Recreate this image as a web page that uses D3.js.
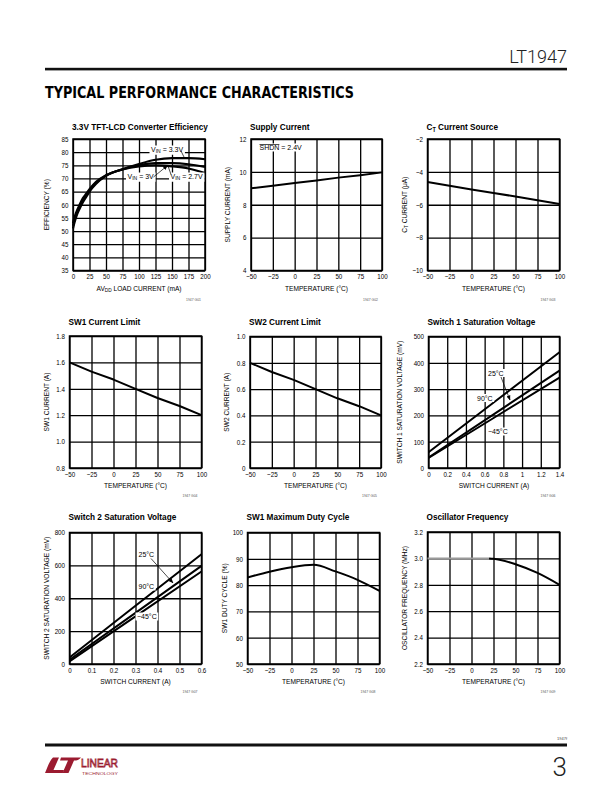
<!DOCTYPE html>
<html><head><meta charset="utf-8">
<script src="https://cdn.jsdelivr.net/npm/d3@7"></script>
<style>body{margin:0;background:#fff}svg{display:block}</style>
</head><body>
<script>
// ---------------- DATA ----------------
const effLoad = [0, 2, 5, 10, 15, 20, 25, 35, 50, 75, 100, 125, 150, 175, 200];
const eff33 = [51, 53, 55.5, 58.5, 61, 63, 65, 68, 71, 73.5, 75.5, 77.1, 77.7, 77.7, 77.3];
const eff30 = [52, 54, 56.3, 59.3, 61.8, 63.6, 65.5, 68.4, 71.1, 73.5, 75, 75.8, 75.8, 75.4, 74.4];
const eff27 = [53, 55, 57.2, 60, 62.5, 64.2, 65.9, 68.7, 71.2, 73.4, 74.6, 75, 74.6, 73.8, 72.1];

const tempC = [-50, -25, 0, 25, 50, 75, 100];
const supplyCurrent = [9.0, 9.15, 9.32, 9.48, 9.65, 9.8, 9.97];
const ctCurrent = [-4.62, -4.85, -5.07, -5.28, -5.5, -5.72, -5.95];
const sw1Limit = [1.6, 1.53, 1.47, 1.4, 1.33, 1.27, 1.2];
const sw2Limit = [0.8, 0.73, 0.67, 0.6, 0.53, 0.47, 0.4];
const dutyCycle = [82.9, 85.1, 86.8, 87.7, 85.2, 82.0, 77.8];

const sw1Amps = [0, 0.7, 1.4];
const sw1Sat90 = [60, 250, 440];
const sw1Sat25 = [40, 205, 370];
const sw1SatM45 = [38, 191, 344];

const sw2Amps = [0, 0.3, 0.6];
const sw2Sat25 = [40, 354, 668];
const sw2Sat90 = [26, 311, 597];
const sw2SatM45 = [16, 290, 563];

const oscTempFlat = [-50, 20];
const oscFreqFlat = [3.0, 3.0];
const oscTempFall = [20, 25, 50, 75, 100];
const oscFreqFall = [3.0, 2.998, 2.956, 2.89, 2.8];

// tick values / labels
const tempTicks = [-50, -25, 0, 25, 50, 75, 100];
const tempLabels = ["\u221250", "\u221225", "0", "25", "50", "75", "100"];
const loadTicks = [0, 25, 50, 75, 100, 125, 150, 175, 200];
const loadLabels = ["0", "25", "50", "75", "100", "125", "150", "175", "200"];
const effTicks = [35, 40, 45, 50, 55, 60, 65, 70, 75, 80, 85];
const effLabels = ["35", "40", "45", "50", "55", "60", "65", "70", "75", "80", "85"];
const supplyTicks = [4, 6, 8, 10, 12];
const supplyLabels = ["4", "6", "8", "10", "12"];
const ctTicks = [-10, -8, -6, -4, -2];
const ctLabels = ["\u221210", "\u22128", "\u22126", "\u22124", "\u22122"];
const sw1LimTicks = [0.8, 1.0, 1.2, 1.4, 1.6, 1.8];
const sw1LimLabels = ["0.8", "1.0", "1.2", "1.4", "1.6", "1.8"];
const sw2LimTicks = [0, 0.2, 0.4, 0.6, 0.8, 1.0];
const sw2LimLabels = ["0", "0.2", "0.4", "0.6", "0.8", "1.0"];
const sat1XTicks = [0, 0.2, 0.4, 0.6, 0.8, 1.0, 1.2, 1.4];
const sat1XLabels = ["0", "0.2", "0.4", "0.6", "0.8", "1", "1.2", "1.4"];
const sat1YTicks = [0, 100, 200, 300, 400, 500];
const sat1YLabels = ["0", "100", "200", "300", "400", "500"];
const sat2XTicks = [0, 0.1, 0.2, 0.3, 0.4, 0.5, 0.6];
const sat2XLabels = ["0", "0.1", "0.2", "0.3", "0.4", "0.5", "0.6"];
const sat2YTicks = [0, 200, 400, 600, 800];
const sat2YLabels = ["0", "200", "400", "600", "800"];
const dutyTicks = [50, 60, 70, 80, 90, 100];
const dutyLabels = ["50", "60", "70", "80", "90", "100"];
const oscTicks = [2.2, 2.4, 2.6, 2.8, 3.0, 3.2];
const oscLabels = ["2.2", "2.4", "2.6", "2.8", "3.0", "3.2"];

// ---------------- DRAW ----------------
const NARROW = "'Liberation Sans Narrow','Arial Narrow','Liberation Sans',Arial,sans-serif";
const SANS = "'Liberation Sans',Arial,sans-serif";
const LIGHT = "Roboto,'Open Sans','Liberation Sans',sans-serif";
const svg = d3.select('body').append('svg').attr('width', 612).attr('height', 792);

function squeeze(sel, k) {
  sel.each(function () {
    const t = d3.select(this);
    const x = +t.attr('x') || 0;
    t.attr('transform', `translate(${x},0) scale(${k},1) translate(${-x},0)`);
  });
}

const defs = svg.append('defs');
defs.append('marker').attr('id', 'ah').attr('viewBox', '0 0 10 10').attr('refX', 9).attr('refY', 5)
  .attr('markerWidth', 5).attr('markerHeight', 5).attr('orient', 'auto-start-reverse')
  .attr('markerUnits', 'userSpaceOnUse')
  .append('path').attr('d', 'M0,1 L10,5 L0,9 Z').attr('fill', '#000');

// header
svg.append('text').attr('x', 567).attr('y', 63).attr('text-anchor', 'end')
  .attr('font-family', LIGHT).attr('font-weight', 300).attr('font-size', 18).attr('fill', '#222').text('LT1947');
svg.append('rect').attr('x', 45).attr('y', 67.8).attr('width', 522).attr('height', 2.6).attr('fill', '#111');
svg.append('text').attr('x', 45).attr('y', 97.5).attr('font-family', "'DejaVu Sans',sans-serif")
  .attr('font-weight', 'bold').attr('font-size', 15)
  .attr('textLength', 309).attr('lengthAdjust', 'spacingAndGlyphs').attr('fill', '#000')
  .text('TYPICAL PERFORMANCE CHARACTERISTICS');

function addRichText(g, x, y, parts, opts = {}) {
  const t = g.append('text').attr('x', x).attr('y', y).attr('font-family', NARROW)
    .attr('font-size', opts.size || 7).attr('fill', '#000')
    .attr('text-anchor', opts.anchor || 'start');
  if (opts.transform) t.attr('transform', opts.transform);
  parts.forEach(p => {
    if (typeof p === 'string') t.append('tspan').text(p);
    else if (p.sub) { t.append('tspan').attr('baseline-shift', '-25%').attr('font-size', (opts.size || 7) * 0.72).text(p.sub); }
    else if (p.over) { t.append('tspan').attr('text-decoration', 'overline').text(p.over); }
  });
  return t;
}
function boxedLabel(g, x, y, parts) {
  const t = addRichText(g, x, y, parts, { size: 7 });
  const b = t.node().getBBox();
  g.insert('rect', () => t.node()).attr('x', b.x - 1.5).attr('y', b.y - 0.5)
    .attr('width', b.width + 3).attr('height', b.height + 1).attr('fill', '#fff');
  return t;
}

function drawChart(c) {
  const g = svg.append('g');
  const [x0, x1, y0, y1] = c.box;
  const w = x1 - x0, h = y1 - y0;
  const x = d3.scaleLinear().domain(c.xDomain).range([x0, x1]);
  const y = d3.scaleLinear().domain(c.yDomain).range([y1, y0]);
  const xa = g.append('g').attr('transform', `translate(0,${y1})`)
    .call(d3.axisBottom(x).tickValues(c.xTicks).tickFormat((d, i) => c.xLabels[i]).tickSize(-h).tickPadding(3.5));
  const ya = g.append('g').attr('transform', `translate(${x0},0)`)
    .call(d3.axisLeft(y).tickValues(c.yTicks).tickFormat((d, i) => c.yLabels[i]).tickSize(-w).tickPadding(4.5));
  [xa, ya].forEach(a => {
    a.select('.domain').remove();
    a.selectAll('line').attr('stroke', '#000').attr('stroke-width', 1.3);
    a.selectAll('text').attr('font-family', NARROW).attr('font-size', 7.4).attr('fill', '#000');
    squeeze(a.selectAll('text'), 0.84);
  });
  g.append('rect').attr('x', x0).attr('y', y0).attr('width', w).attr('height', h)
    .attr('fill', 'none').attr('stroke', '#000').attr('stroke-width', 1.5);
  // title
  const tt = g.append('text').attr('x', x0 - 1).attr('y', c.titleY).attr('font-family', NARROW)
    .attr('font-weight', 'bold').attr('font-size', 9.8).attr('fill', '#000');
  c.title.forEach(p => {
    if (typeof p === 'string') tt.append('tspan').text(p);
    else tt.append('tspan').attr('baseline-shift', '-25%').attr('font-size', 6.5).text(p.sub);
  });
  squeeze(tt, 0.84);
  // axis titles
  addRichText(g, (x0 + x1) / 2, y1 + 20, c.xTitle, { size: 6.6, anchor: 'middle' });
  const ymid = (y0 + y1) / 2;
  addRichText(g, 0, 0, c.yTitle, { size: 6.6, anchor: 'middle', transform: `translate(${c.yTitleX + 2.3},${ymid}) rotate(-90)` });
  // code
  g.append('text').attr('x', x1 - 4).attr('y', c.codeY).attr('text-anchor', 'end')
    .attr('font-family', SANS).attr('font-size', 3.4).attr('fill', '#555').text(c.code);
  // series
  c.series.forEach(s => {
    const line = d3.line().x(d => x(d[0])).y(d => y(d[1])).curve(s.curve || d3.curveLinear);
    g.append('path').attr('d', line(d3.zip(s.x, s.y))).attr('fill', 'none')
      .attr('stroke', s.color || '#000').attr('stroke-width', s.width || 2)
      .attr('stroke-linejoin', 'round');
  });
  if (c.annotate) c.annotate(g, x, y);
}

const arrow = (g, ax, ay, bx, by, head = true) => {
  const l = g.append('line').attr('x1', ax).attr('y1', ay).attr('x2', bx).attr('y2', by)
    .attr('stroke', '#000').attr('stroke-width', 0.7);
  if (head) l.attr('marker-end', 'url(#ah)');
};

// Row 1
drawChart({
  box: [73, 205, 139, 270.5], xDomain: [0, 200], yDomain: [35, 85],
  xTicks: loadTicks, xLabels: loadLabels, yTicks: effTicks, yLabels: effLabels,
  title: ['3.3V TFT-LCD Converter Efficiency'], titleY: 130,
  xTitle: ['AV', { sub: 'DD' }, ' LOAD CURRENT (mA)'], yTitle: ['EFFICIENCY (%)'], yTitleX: 47,
  code: '1947 G01', codeY: 301,
  series: [
    { x: effLoad, y: eff33, curve: d3.curveMonotoneX, width: 2.2 },
    { x: effLoad, y: eff30, curve: d3.curveMonotoneX, width: 2.2 },
    { x: effLoad, y: eff27, curve: d3.curveMonotoneX, width: 2.2 }
  ],
  annotate: (g) => {
    boxedLabel(g, 151, 152, ['V', { sub: 'IN' }, ' = 3.3V']);
    arrow(g, 181, 151, 184, 157, false);
    boxedLabel(g, 127.5, 179, ['V', { sub: 'IN' }, ' = 3V']);
    boxedLabel(g, 170.5, 179, ['V', { sub: 'IN' }, ' = 2.7V']);
    arrow(g, 153.5, 177, 167.5, 165.5);
    arrow(g, 171, 174.5, 168, 166, false);
  }
});
drawChart({
  box: [251, 382, 139, 270.5], xDomain: [-50, 100], yDomain: [4, 12],
  xTicks: tempTicks, xLabels: tempLabels, yTicks: supplyTicks, yLabels: supplyLabels,
  title: ['Supply Current'], titleY: 130,
  xTitle: ['TEMPERATURE (\u00B0C)'], yTitle: ['SUPPLY CURRENT (mA)'], yTitleX: 228,
  code: '1947 G02', codeY: 301,
  series: [{ x: tempC, y: supplyCurrent }],
  annotate: (g) => { boxedLabel(g, 259.5, 150, [{ over: 'SHDN' }, ' = 2.4V']); }
});
drawChart({
  box: [427.5, 559.5, 139, 270.5], xDomain: [-50, 100], yDomain: [-10, -2],
  xTicks: tempTicks, xLabels: tempLabels, yTicks: ctTicks, yLabels: ctLabels,
  title: ['C', { sub: 'T' }, ' Current Source'], titleY: 130,
  xTitle: ['TEMPERATURE (\u00B0C)'], yTitle: ['C', { sub: 'T' }, ' CURRENT (\u03BCA)'], yTitleX: 405,
  code: '1947 G03', codeY: 301,
  series: [{ x: tempC, y: ctCurrent }]
});
// Row 2
drawChart({
  box: [69.5, 201.5, 336, 468], xDomain: [-50, 100], yDomain: [0.8, 1.8],
  xTicks: tempTicks, xLabels: tempLabels, yTicks: sw1LimTicks, yLabels: sw1LimLabels,
  title: ['SW1 Current Limit'], titleY: 325.5,
  xTitle: ['TEMPERATURE (\u00B0C)'], yTitle: ['SW1 CURRENT (A)'], yTitleX: 47,
  code: '1947 G04', codeY: 497,
  series: [{ x: tempC, y: sw1Limit }]
});
drawChart({
  box: [250, 381, 336.5, 468], xDomain: [-50, 100], yDomain: [0, 1.0],
  xTicks: tempTicks, xLabels: tempLabels, yTicks: sw2LimTicks, yLabels: sw2LimLabels,
  title: ['SW2 Current Limit'], titleY: 325.5,
  xTitle: ['TEMPERATURE (\u00B0C)'], yTitle: ['SW2 CURRENT (A)'], yTitleX: 227,
  code: '1947 G05', codeY: 497,
  series: [{ x: tempC, y: sw2Limit }]
});
drawChart({
  box: [428.5, 559.5, 336.5, 468], xDomain: [0, 1.4], yDomain: [0, 500],
  xTicks: sat1XTicks, xLabels: sat1XLabels, yTicks: sat1YTicks, yLabels: sat1YLabels,
  title: ['Switch 1 Saturation Voltage'], titleY: 325.5,
  xTitle: ['SWITCH CURRENT (A)'], yTitle: ['SWITCH 1 SATURATION VOLTAGE (mV)'], yTitleX: 400,
  code: '1947 G06', codeY: 497,
  series: [{ x: sw1Amps, y: sw1Sat90 }, { x: sw1Amps, y: sw1Sat25 }, { x: sw1Amps, y: sw1SatM45 }],
  annotate: (g) => {
    boxedLabel(g, 488, 375.5, ['25\u00B0C']);
    arrow(g, 501, 377, 510, 400);
    boxedLabel(g, 477, 400.5, ['90\u00B0C']);
    boxedLabel(g, 488, 434, ['\u221245\u00B0C']);
  }
});
// Row 3
drawChart({
  box: [69.5, 201.5, 532.5, 664], xDomain: [0, 0.6], yDomain: [0, 800],
  xTicks: sat2XTicks, xLabels: sat2XLabels, yTicks: sat2YTicks, yLabels: sat2YLabels,
  title: ['Switch 2 Saturation Voltage'], titleY: 520.5,
  xTitle: ['SWITCH CURRENT (A)'], yTitle: ['SWITCH 2 SATURATION VOLTAGE (mV)'], yTitleX: 47,
  code: '1947 G07', codeY: 693,
  series: [{ x: sw2Amps, y: sw2Sat25 }, { x: sw2Amps, y: sw2Sat90 }, { x: sw2Amps, y: sw2SatM45 }],
  annotate: (g) => {
    boxedLabel(g, 138.5, 556.5, ['25\u00B0C']);
    arrow(g, 151, 558.5, 173, 583);
    boxedLabel(g, 138.5, 589, ['90\u00B0C']);
    boxedLabel(g, 137, 619, ['\u221245\u00B0C']);
  }
});
drawChart({
  box: [247.5, 379.5, 532.5, 664], xDomain: [-50, 100], yDomain: [50, 100],
  xTicks: tempTicks, xLabels: tempLabels, yTicks: dutyTicks, yLabels: dutyLabels,
  title: ['SW1 Maximum Duty Cycle'], titleY: 520.5,
  xTitle: ['TEMPERATURE (\u00B0C)'], yTitle: ['SW1 DUTY CYCLE (%)'], yTitleX: 225,
  code: '1947 G08', codeY: 693,
  series: [{ x: tempC, y: dutyCycle, curve: d3.curveMonotoneX }]
});
drawChart({
  box: [427.5, 559.5, 532, 664], xDomain: [-50, 100], yDomain: [2.2, 3.2],
  xTicks: tempTicks, xLabels: tempLabels, yTicks: oscTicks, yLabels: oscLabels,
  title: ['Oscillator Frequency'], titleY: 520.5,
  xTitle: ['TEMPERATURE (\u00B0C)'], yTitle: ['OSCILLATOR FREQUENCY (MHz)'], yTitleX: 405,
  code: '1947 G09', codeY: 693,
  series: [
    { x: oscTempFlat, y: oscFreqFlat, color: '#9a9a9a', width: 2 },
    { x: oscTempFall, y: oscFreqFall, curve: d3.curveMonotoneX }
  ]
});

// footer
svg.append('text').attr('x', 567).attr('y', 739.5).attr('text-anchor', 'end')
  .attr('font-family', SANS).attr('font-size', 4).attr('fill', '#444').text('1947f');
svg.append('rect').attr('x', 45).attr('y', 743.5).attr('width', 522).attr('height', 3).attr('fill', '#111');
svg.append('text').attr('x', 567).attr('y', 776).attr('text-anchor', 'end')
  .attr('font-family', LIGHT).attr('font-weight', 300).attr('font-size', 26).attr('fill', '#222').text('3');
const LOGO = '#9b1b30';
const logo = svg.append('g');
logo.append('path').attr('fill', LOGO)
  .attr('d', 'M45,773 C48,766 50,760 53,757.5 L59,757.5 L53.5,770 L64,770 L62.8,773 Z');
logo.append('path').attr('fill', LOGO)
  .attr('d', 'M61,757.5 L81,757.5 C79,760 77,760.5 74,760.5 L68.5,773 L62.5,773 L68,760.5 L60,760.5 Z');
logo.append('text').attr('x', 81).attr('y', 767.3).attr('font-family', NARROW).attr('font-size', 11.5)
  .attr('textLength', 37).attr('lengthAdjust', 'spacingAndGlyphs')
  .attr('fill', 'none').attr('stroke', LOGO).attr('stroke-width', 0.8).text('LINEAR');
logo.append('text').attr('x', 82).attr('y', 774.6).attr('font-family', NARROW).attr('font-size', 4)
  .attr('textLength', 36).attr('lengthAdjust', 'spacingAndGlyphs')
  .attr('fill', LOGO).text('TECHNOLOGY');
</script>
</body></html>
